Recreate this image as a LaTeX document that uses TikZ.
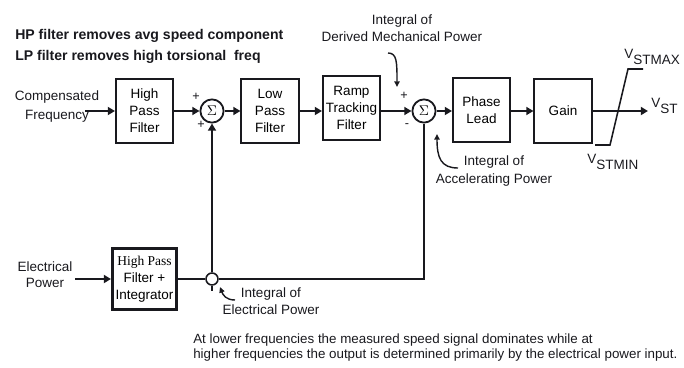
\documentclass[tikz,border=0pt]{standalone}
\usepackage{fontspec}
\setmainfont{Liberation Sans}
\newfontfamily\timesfont{Liberation Serif}
\usetikzlibrary{arrows.meta,positioning}
\definecolor{ink}{RGB}{25,25,30}
\tikzset{
  >={Triangle[length=1.8mm,width=2mm]},
  blk/.style={draw=ink,line width=1.3pt,minimum width=1.43cm,minimum height=1.58cm,
    align=center,inner sep=1pt,font=\fontsize{9.6}{12.2}\selectfont},
  sumnode/.style={circle,draw=ink,line width=1.3pt,minimum size=0.58cm,inner sep=0pt,
    font=\fontsize{10}{12}\selectfont},
  junc/.style={circle,draw=ink,line width=1.1pt,fill=white,minimum size=0.3cm,inner sep=0pt},
  flow/.style={->,line width=1.3pt,draw=ink},
  wire/.style={line width=1.3pt,draw=ink},
  pointer/.style={-{Triangle[length=1.4mm,width=1.3mm]},line width=1pt,draw=ink},
  tag/.style={font=\fontsize{9.6}{12.2}\selectfont,text=ink,align=center,inner sep=0pt},
  sgn/.style={font=\fontsize{9}{10}\selectfont,text=ink,inner sep=0pt},
  volt/.style={tag,anchor=west},
}
\newcommand{\vsub}[1]{V\raisebox{-4pt}{#1}}

\begin{document}
\begin{tikzpicture}[x=0.025cm,y=-0.025cm]
  \useasboundingbox (0,0) rectangle (684,368);
  \node[tag,anchor=west,align=left,font=\fontsize{10}{15}\selectfont\bfseries] (title) at (15,46)
    {HP filter removes avg speed component\\LP filter removes high torsional~ freq};
  % forward path
  \node[tag,font=\fontsize{9.6}{13.5}\selectfont] (cf) at (57,107) {Compensated\\Frequency};
  \coordinate (cfin) at (85,111);
  \node[blk] (hp) at (144.5,111) {High\\Pass\\Filter};
  \node[sumnode] (s1) at (212,111) {$\Sigma$};
  \node[blk] (lp) at (270,111) {Low\\Pass\\Filter};
  \node[blk] (rt) at (351.5,108) {Ramp\\Tracking\\Filter};
  \node[sumnode] (s2) at (424,111) {$\Sigma$};
  \node[blk] (pl) at (481.5,110) {Phase\\Lead};
  \node[blk] (gn) at (563,111) {Gain};
  \coordinate (vout) at (648,111);
  \draw[flow] (cfin) -- (hp);
  \draw[flow] (hp) -- (s1);
  \draw[flow] (s1) -- (lp);
  \draw[flow] (lp.east) -- (lp.east -| rt.west);
  \draw[flow] (rt.east |- s2) -- (s2);
  \draw[flow] (s2) -- (s2 -| pl.west);
  \draw[flow] (pl.east |- gn) -- (gn);
  \draw[flow] (gn) -- (vout);
  \node[sgn] (p1) at (196,97) {+};
  \node[sgn] (p2) at (201,125) {+};
  \node[sgn] (p3) at (404,96) {+};
  \node[sgn] (m1) at (407,126) {-};
  % limiter
  \coordinate (lima) at (595,145);
  \coordinate (limb) at (610,145);
  \coordinate (limc) at (628,69);
  \coordinate (limd) at (643,69);
  \draw[ink,line width=1.1pt] (lima) -- (limb) -- (limc) -- (limd);
  \node[volt] (vmax) at (624,57) {\vsub{STMAX}};
  \node[volt] (vst) at (651,106) {\vsub{ST}};
  \node[volt] (vmin) at (587,162) {\vsub{STMIN}};
  % electrical power path
  \node[tag,font=\fontsize{9.6}{11.5}\selectfont] (ep) at (45,275) {Electrical\\Power};
  \coordinate (epin) at (75,279);
  \node[blk,line width=2.4pt,minimum width=1.59cm,minimum height=1.515cm] (hpi) at (144.5,279)
    {{\timesfont High Pass}\\Filter +\\Integrator};
  \node[junc] (jn) at (212,279) {};
  \coordinate (jtail) at (212,291);
  \draw[flow] (epin) -- (hpi);
  \draw[wire] (hpi) -- (jn);
  \draw[flow] (jn) -- (s1);
  \draw[wire] (jn) -- (jtail);
  \draw[wire] (jn) -| (s2);
  % annotations
  \node[tag] (dmtxt) at (402,28) {Integral of\\Derived Mechanical Power};
  \coordinate (dm0) at (388,53);
  \coordinate (dm1) at (397,87);
  \draw[pointer] (dm0) .. controls (397,53) and (397,62) .. (dm1);
  \node[tag] (aptxt) at (494,171) {Integral of\\Accelerating Power};
  \coordinate (ap0) at (458,168);
  \coordinate (ap1) at (437,134);
  \draw[pointer] (ap0) .. controls (441,168) and (437,158) .. (ap1);
  \node[tag] (eltxt) at (271,301) {Integral of\\Electrical Power};
  \coordinate (el0) at (235,300);
  \coordinate (el1) at (220,287);
  \draw[pointer] (el0) .. controls (226,300) and (223,295) .. (el1);
  \node[tag,anchor=west,align=left,font=\fontsize{9.5}{10.8}\selectfont] (note) at (193,347.5)
    {At lower frequencies the measured speed signal dominates while at\\higher frequencies the output is determined primarily by the electrical power input.};
\end{tikzpicture}
\end{document}
